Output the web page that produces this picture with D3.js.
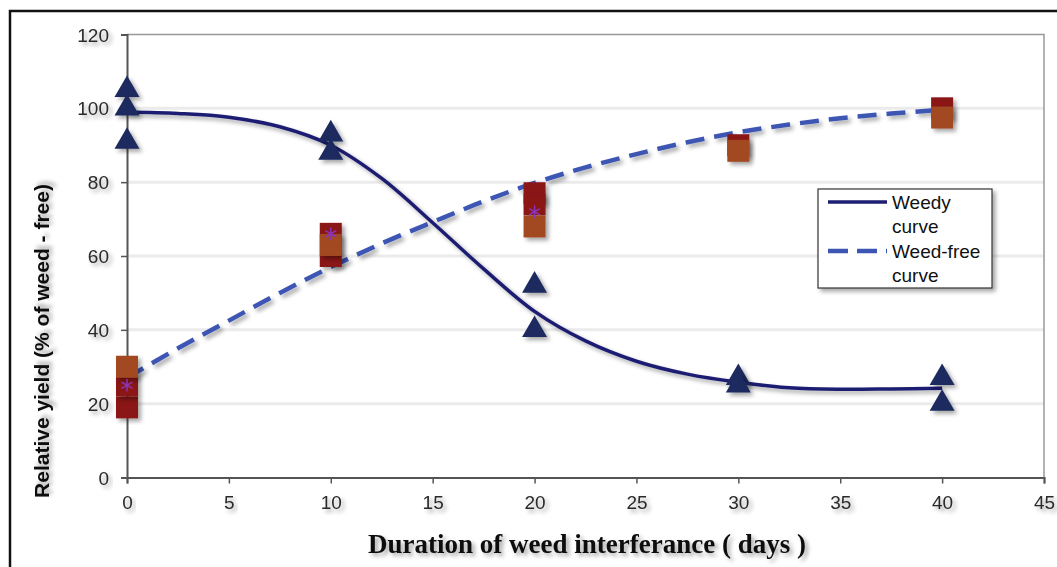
<!DOCTYPE html>
<html>
<head>
<meta charset="utf-8">
<script src="https://cdn.jsdelivr.net/npm/d3@7"></script>
<style>
  body { margin: 0; background: #fff; }
  svg { display: block; }
</style>
</head>
<body>
<svg width="1057" height="567"></svg>
<script>
// observed points
const weedyX = [0, 0, 0, 10, 10, 20, 20, 30, 30, 40, 40];
const weedyY = [105, 100, 91, 93, 88, 52, 40, 27, 25, 27, 20];

const freeRedX = [0, 0, 10, 10, 20, 20, 30, 40];
const freeRedY = [19, 25, 60, 66, 77, 74, 90, 100];

const freeOrangeX = [0, 10, 20, 30, 40];
const freeOrangeY = [30, 63, 68, 88.5, 97.5];

const meanX = [0, 10, 20];
const meanY = [25, 66, 72];

// fitted curves
const curveX = [0, 2.5, 5, 7.5, 10, 12.5, 15, 17.5, 20, 22.5, 25, 27.5, 30, 32.5, 35, 37.5, 40];
const weedyCurve = [99, 98.6, 97.6, 95, 90, 81, 69, 56.5, 45, 37, 31.5, 28, 25.8, 24.3, 23.9, 24, 24.2];
const freeCurve = [27, 35, 42.5, 50, 57, 63.4, 69.2, 74.8, 79.8, 84, 87.6, 90.8, 93.5, 95.6, 97.3, 98.6, 99.6];

const xTicks = [0, 5, 10, 15, 20, 25, 30, 35, 40, 45];
const yTicks = [0, 20, 40, 60, 80, 100, 120];

const svg = d3.select('svg');
const margin = { left: 127, right: 1044, top: 34.5, bottom: 477.5 };

const x = d3.scaleLinear().domain([0, 45]).range([margin.left, margin.right]);
const y = d3.scaleLinear().domain([0, 120]).range([margin.bottom, margin.top]);

const defs = svg.append('defs');
const f = defs.append('filter').attr('id', 'sh')
  .attr('x', '-20%').attr('y', '-20%').attr('width', '150%').attr('height', '150%');
f.append('feDropShadow').attr('dx', 3).attr('dy', 3).attr('stdDeviation', 2)
  .attr('flood-color', '#000').attr('flood-opacity', 0.35);

// outer frame
svg.append('rect')
  .attr('x', 10).attr('y', 11).attr('width', 1080).attr('height', 600)
  .attr('fill', 'none').attr('stroke', '#111').attr('stroke-width', 2.5);

// grid
svg.append('g')
  .selectAll('line')
  .data(yTicks.filter(d => d > 0 && d < 120))
  .enter().append('line')
  .attr('x1', x(0)).attr('x2', x(45))
  .attr('y1', d => y(d)).attr('y2', d => y(d))
  .attr('stroke', '#ebebeb').attr('stroke-width', 3);

// plot border top / right
svg.append('path')
  .attr('d', `M${x(0)},${y(120)}H${x(45)}V${y(0)}`)
  .attr('fill', 'none').attr('stroke', '#999').attr('stroke-width', 1.5);

// axes
const xAxis = svg.append('g')
  .attr('transform', `translate(0,${y(0)})`)
  .call(d3.axisBottom(x).tickValues(xTicks).tickSize(6).tickPadding(10));
const yAxis = svg.append('g')
  .attr('transform', `translate(${x(0)},0)`)
  .call(d3.axisLeft(y).tickValues(yTicks).tickSize(6).tickPadding(12));

[xAxis, yAxis].forEach(a => {
  a.select('.domain').attr('stroke', '#555').attr('stroke-width', 2);
  a.selectAll('.tick line').attr('stroke', '#555').attr('stroke-width', 1.5);
  a.selectAll('.tick text')
    .attr('font-family', 'Liberation Sans, Arial, sans-serif')
    .attr('font-size', 19).attr('fill', '#2a2a2a')
    .attr('filter', 'url(#sh)');
});
xAxis.selectAll('.tick text').attr('dy', '0.8em');
yAxis.selectAll('.tick text').attr('dy', '0.35em');

// curves
const line = d3.line().curve(d3.curveCatmullRom);
const weedyPts = curveX.map((d, i) => [x(d), y(weedyCurve[i])]);
const freePts = curveX.map((d, i) => [x(d), y(freeCurve[i])]);

svg.append('path')
  .attr('d', line(freePts))
  .attr('fill', 'none').attr('stroke', '#3d55b3').attr('stroke-width', 4.5)
  .attr('stroke-dasharray', '19,10')
  .attr('filter', 'url(#sh)');

// markers: weed-free squares
const sq = 22;
svg.append('g')
  .selectAll('rect')
  .data(freeRedX.map((d, i) => [d, freeRedY[i]]))
  .enter().append('rect')
  .attr('x', d => x(d[0]) - sq / 2).attr('y', d => y(d[1]) - sq / 2)
  .attr('width', sq).attr('height', sq)
  .attr('fill', '#8a1518')
  .attr('filter', 'url(#sh)');

svg.append('g')
  .selectAll('rect')
  .data(freeOrangeX.map((d, i) => [d, freeOrangeY[i]]))
  .enter().append('rect')
  .attr('x', d => x(d[0]) - sq / 2).attr('y', d => y(d[1]) - sq / 2)
  .attr('width', sq).attr('height', sq)
  .attr('fill', '#a24a22')
  .attr('filter', 'url(#sh)');

// mean asterisks
const star = d3.symbol().type(d3.symbolAsterisk).size(110);
svg.append('g')
  .selectAll('path')
  .data(meanX.map((d, i) => [d, meanY[i]]))
  .enter().append('path')
  .attr('d', star)
  .attr('transform', d => `translate(${x(d[0])},${y(d[1])})`)
  .attr('fill', 'none').attr('stroke', '#8a35b8').attr('stroke-width', 1.5);

// weedy curve and triangles
svg.append('path')
  .attr('d', line(weedyPts))
  .attr('fill', 'none').attr('stroke', '#1d1f72').attr('stroke-width', 3.5)
  .attr('filter', 'url(#sh)');

const tri = d3.symbol().type(d3.symbolTriangle).size(270);
svg.append('g')
  .selectAll('path')
  .data(weedyX.map((d, i) => [d, weedyY[i]]))
  .enter().append('path')
  .attr('d', tri)
  .attr('transform', d => `translate(${x(d[0])},${y(d[1])})`)
  .attr('fill', '#1c2a5e')
  .attr('filter', 'url(#sh)');

// legend
const lg = svg.append('g').attr('transform', 'translate(818,189)');
lg.append('rect')
  .attr('width', 174).attr('height', 99)
  .attr('fill', '#fff').attr('stroke', '#333').attr('stroke-width', 1.2)
  .attr('filter', 'url(#sh)');
lg.append('line').attr('x1', 10).attr('x2', 69).attr('y1', 13).attr('y2', 13)
  .attr('stroke', '#1d1f72').attr('stroke-width', 3.5);
lg.append('line').attr('x1', 10).attr('x2', 69).attr('y1', 62).attr('y2', 62)
  .attr('stroke', '#3d55b3').attr('stroke-width', 4.5).attr('stroke-dasharray', '20,9');
const legText = [['Weedy', 20], ['curve', 44], ['Weed-free', 69], ['curve', 93]];
lg.selectAll('text.l')
  .data(legText)
  .enter().append('text')
  .attr('x', 74).attr('y', d => d[1])
  .attr('font-family', 'Liberation Sans, Arial, sans-serif')
  .attr('font-size', 19).attr('fill', '#111')
  .text(d => d[0]);

// axis titles
svg.append('text')
  .attr('transform', 'translate(49,341) rotate(-90)')
  .attr('text-anchor', 'middle')
  .attr('font-family', 'Liberation Sans, Arial, sans-serif')
  .attr('font-weight', 'bold').attr('font-size', 21).attr('fill', '#111')
  .attr('filter', 'url(#sh)')
  .text('Relative yield (% of weed - free)');

svg.append('text')
  .attr('x', 587).attr('y', 553)
  .attr('text-anchor', 'middle')
  .attr('font-family', 'Liberation Serif, Times New Roman, serif')
  .attr('font-weight', 'bold').attr('font-size', 27).attr('fill', '#111')
  .attr('filter', 'url(#sh)')
  .text('Duration of weed interferance ( days )');
</script>
</body>
</html>
